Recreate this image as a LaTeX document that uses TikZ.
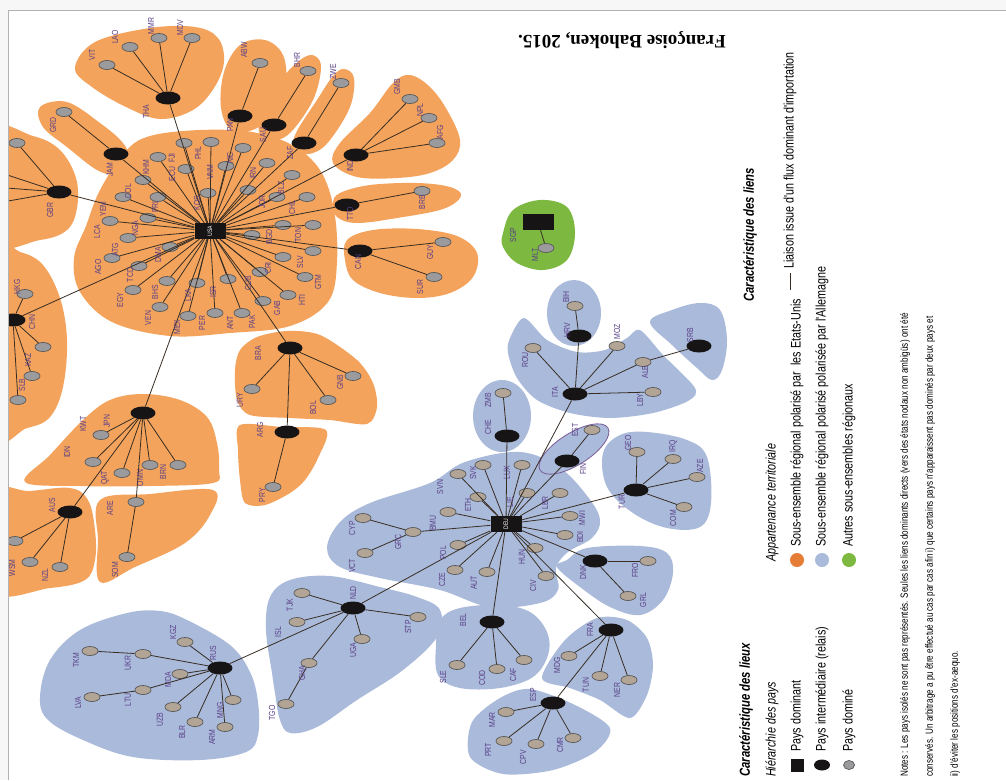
\documentclass[tikz,border=0pt]{standalone}
\usepackage{fontspec}
\setmainfont{Liberation Serif}
\newfontfamily\narrowfont[FakeStretch=0.78]{Liberation Sans}
\usetikzlibrary{shapes.geometric}
\definecolor{usorange}{RGB}{243,163,92}
\definecolor{deblue}{RGB}{170,186,218}
\definecolor{othgreen}{RGB}{125,185,65}
\definecolor{legorange}{RGB}{230,125,55}
\definecolor{relaycol}{RGB}{22,20,20}
\definecolor{usgray}{RGB}{155,155,158}
\definecolor{degray}{RGB}{178,165,150}
\definecolor{linkcol}{RGB}{55,45,35}
\definecolor{lblcol}{RGB}{88,62,135}
\definecolor{finpurple}{RGB}{120,90,150}

\begin{document}
\begin{tikzpicture}[x=1pt,y=-1pt]
  \tikzstyle{dominant}=[rectangle,fill=relaycol,minimum width=31pt,minimum height=16pt,inner sep=0pt]
  \tikzstyle{relay}=[ellipse,fill=relaycol,minimum width=25pt,minimum height=13pt,inner sep=0pt]
  \tikzstyle{dominated}=[ellipse,fill=usgray,draw=black!65,line width=0.7pt,minimum width=16pt,minimum height=9pt,inner sep=0pt]
  \tikzstyle{dominated de}=[dominated,fill=degray]
  \tikzstyle{lbl}=[rotate=90,text=lblcol,inner sep=0pt,font=\narrowfont\fontsize{8.8}{8.8}\selectfont]
  \tikzstyle{link}=[draw=linkcol,line width=0.8pt]
  \tikzstyle{usblob}=[fill=usorange]
  \tikzstyle{deblob}=[fill=deblue]
  \tikzstyle{legtext}=[rotate=90,anchor=west,inner sep=0pt,font=\narrowfont\fontsize{13.8}{14}\selectfont]
  \tikzstyle{leghead}=[legtext,font=\narrowfont\bfseries\itshape\fontsize{14.5}{15}\selectfont]
  \tikzstyle{legsub}=[legtext,font=\narrowfont\itshape\fontsize{13.8}{14}\selectfont]
  \tikzstyle{legnote}=[legtext,font=\narrowfont\fontsize{10.4}{10.4}\selectfont]

  \useasboundingbox (0,0) rectangle (1006,780);
  \fill[white] (0,0) rectangle (1006,780);
  \fill[gray!6] (0,0) rectangle (1006,10);
  \fill[gray!6] (0,0) rectangle (8,780);
  \draw[gray!60,line width=1pt] (8,780) -- (8,10) -- (1006,10);

  \begin{scope}
  \clip (9,11) rectangle (1006,780);

  % Draw the regional sub-sets (Etats-Unis)
  \fill[usblob] plot[smooth cycle,tension=0.6] coordinates {(100,190) (125,152) (150,136) (200,130) (252,132) (292,145) (320,170) (334,210) (337,262) (328,302) (290,326) (230,333) (170,336) (112,322) (80,292) (74,258) (86,226)};
  \fill[usblob] plot[smooth cycle,tension=0.6] coordinates {(75,68) (95,42) (150,28) (195,27) (218,38) (224,62) (214,88) (193,110) (160,119) (126,107) (92,87)};
  \fill[usblob] plot[smooth cycle,tension=0.6] coordinates {(40,107) (67,102) (100,123) (123,143) (129,160) (117,174) (97,170) (67,147) (43,127)};
  \fill[usblob] plot[smooth cycle,tension=0.6] coordinates {(-10,132) (33,136) (60,150) (76,178) (77,208) (67,230) (40,240) (-10,241)};
  \fill[usblob] plot[smooth cycle,tension=0.6] coordinates {(-10,250) (20,252) (43,265) (60,298) (67,340) (63,387) (50,417) (27,428) (-10,432)};
  \fill[usblob] plot[smooth cycle,tension=0.6] coordinates {(224,72) (240,45) (265,40) (283,55) (286,85) (276,112) (255,129) (232,131) (221,108)};
  \fill[usblob] plot[smooth cycle,tension=0.6] coordinates {(303,58) (315,56) (321,68) (313,100) (290,133) (270,141) (259,132) (263,107) (283,77)};
  \fill[usblob] plot[smooth cycle,tension=0.6] coordinates {(333,76) (344,69) (354,78) (350,107) (330,140) (313,153) (293,152) (296,133) (317,100)};
  \fill[usblob] plot[smooth cycle,tension=0.6] coordinates {(393,83) (410,75) (430,87) (447,110) (460,140) (453,160) (430,173) (397,178) (357,177) (333,163) (340,143) (370,113)};
  \fill[usblob] plot[smooth cycle,tension=0.6] coordinates {(340,193) (370,185) (417,183) (450,187) (461,196) (443,209) (397,218) (357,223) (337,217) (333,203)};
  \fill[usblob] plot[smooth cycle,tension=0.6] coordinates {(347,240) (373,230) (417,229) (457,236) (477,253) (473,277) (450,293) (417,298) (380,293) (353,280) (345,260)};
  \fill[usblob] plot[smooth cycle,tension=0.5] coordinates {(240,350) (257,337) (287,331) (320,335) (357,360) (373,383) (377,407) (367,424) (330,420) (290,418) (250,415) (237,400) (235,370)};
  \fill[usblob] plot[smooth cycle,tension=0.5] coordinates {(240,425) (282,427) (326,430) (318,458) (305,480) (290,493) (265,505) (245,503) (240,480) (238,450)};
  \fill[usblob] plot[smooth cycle,tension=0.6] coordinates {(25,482) (50,455) (83,420) (110,400) (143,394) (180,400) (207,417) (217,443) (219,470) (213,483) (150,486) (80,486)};
  \fill[usblob] plot[smooth cycle,tension=0.6] coordinates {(-10,494) (30,491) (70,488) (88,500) (95,530) (95,560) (85,580) (50,588) (-10,590)};
  \fill[usblob] plot[smooth cycle,tension=0.6] coordinates {(100,500) (150,494) (213,490) (210,515) (185,543) (135,567) (100,582) (98,540)};

  % Draw the regional sub-sets (Allemagne)
  \fill[deblob] plot[smooth cycle,tension=0.6] coordinates {(327,548) (340,522) (370,503) (430,483) (465,462) (520,452) (560,468) (588,497) (600,520) (592,538) (568,552) (556,568) (558,590) (540,603) (490,607) (440,590) (380,578) (340,567)};
  \fill[deblob] (502,416) ellipse [x radius=29pt,y radius=36pt];
  \filldraw[deblob,draw=finpurple,line width=0.8pt,rotate around={32:(574,449)}] (574,449) ellipse [x radius=40pt,y radius=16pt];
  \fill[deblob] plot[smooth cycle,tension=0.6] coordinates {(603,453) (620,435) (647,432) (687,440) (707,457) (711,503) (700,527) (667,528) (633,513) (607,487)};
  \fill[deblob] plot[smooth cycle,tension=0.6] coordinates {(567,560) (587,548) (640,546) (667,553) (673,573) (663,600) (640,615) (610,607) (580,587) (557,567)};
  \fill[deblob] plot[smooth cycle,tension=0.6] coordinates {(440,620) (460,608) (500,605) (530,612) (547,632) (548,655) (533,677) (500,688) (460,688) (438,675) (436,645)};
  \fill[deblob] plot[smooth cycle,tension=0.5] coordinates {(542,678) (565,640) (597,618) (627,620) (647,638) (653,665) (647,695) (630,718) (600,700) (570,688)};
  \fill[deblob] plot[smooth cycle,tension=0.5] coordinates {(530,689) (575,705) (610,728) (595,752) (553,770) (503,774) (470,757) (472,722) (500,698)};
  \fill[deblob] plot[smooth cycle,tension=0.6] coordinates {(266,630) (270,597) (290,580) (330,576) (380,587) (417,597) (440,610) (437,637) (403,670) (357,700) (317,727) (290,733) (280,720) (275,693) (272,673)};
  \fill[deblob] plot[smooth cycle,tension=0.6] coordinates {(40,697) (50,660) (80,630) (127,613) (160,611) (187,620) (230,645) (250,672) (258,702) (258,735) (246,752) (200,760) (133,757) (83,740) (48,720)};
  \fill[deblob] plot[smooth cycle,tension=0.5] coordinates {(508,353) (510,338) (524,318) (547,340) (577,352) (605,350) (627,338) (640,330) (663,355) (695,388) (688,401) (653,413) (610,418) (570,413) (537,400) (517,378)};
  \fill[deblob] (574,313) ellipse [x radius=27pt,y radius=33pt];
  \fill[deblob] plot[smooth cycle,tension=0.6] coordinates {(650,322) (672,310) (700,303) (720,310) (727,340) (722,370) (712,380) (697,368) (672,345)};

  % Draw the other sub-set
  \fill[othgreen] plot[smooth cycle,tension=0.6] coordinates {(503,233) (513,210) (540,200) (567,207) (575,233) (567,260) (543,270) (517,263) (503,247)};

  % Draw the dominant and intermediate countries
  \node[dominant] (USA) at (210,231) {};
  \node[dominant] (DEU) at (506,524) {};
  \node[dominant] (SGP) at (538,222) {};
  \foreach \name/\x/\y in {THA/168/98,PAN/240/116,SAU/274/125,ZAF/304/143,IND/356/155,TTO/347/205,
      CAN/360/251,BRA/290/348,ARG/287/432,JPN/143/413,AUS/70/512,GBR/59/192,JAM/116/154,CHN/13/320,
      RUS/220/668,NLD/353/608,ITA/575/394,HRV/579/336,SRB/699/346,CHE/507/436,FIN/567/461,
      TUR/636/490,DNK/595/561,BEL/492/622,FRA/611/630,ESP/553/703}
    \node[relay] (\name) at (\x,\y) {};

  % Draw the dominated countries around USA
  \foreach \x/\y [count=\i] in {184/143,211/142,158/157,186/169,243/148,226/166,143/180,208/193,248/190,
      123/197,158/197,110/221,148/218,128/238,170/247,112/258,139/266,133/290,167/281,197/283,160/307,
      188/316,215/313,242/313,228/279,263/301,288/295,260/272,305/277,283/257,313/251,252/235,283/225,
      313/225,267/163,292/175,277/197,307/197}
    \node[dominated] (USA-\i) at (\x,\y) {};

  % Draw the other dominated countries
  \foreach \name/\x/\y in {VIT/107/65,LAO/130/47,MMR/159/38,MDV/192/38,ABW/260/63,BHR/308/71,ZWE/341/83,
      GMB/410/99,NPL/429/118,AFG/437/143,BRB/422/191,GUY/443/242,SUR/434/277,GRD/64/112,GBR-1/17/143,
      HKG/25/294,KAZ/43/347,SLB/32/376,CHN-1/18/400,KWT/101/435,IDN/93/462,QAT/122/473,OMN/150/465,
      BRN/178/465,ARE/136/502,AUS-1/15/541,WSM/30/562,NZL/60/567,SOM/127/557,URY/252/389,BOL/328/400,
      GNB/353/376,PRY/273/487,MLT/546/248}
    \node[dominated] (\name) at (\x,\y) {};
  \foreach \name/\x/\y in {KGZ/185/642,UKR/143/654,MDA/180/674,LTU/143/690,UZB/173/707,BLR/195/722,
      ARM/225/727,MNG/233/700,TKM/90/651,LVA/92/697,TJK/302/593,ISL/297/622,STP/418/617,UGA/362/639,
      GHA/309/663,TGO/286/704,SVN/458/474,SVK/483/465,LUX/522/465,ETH/478/497,LIE/527/493,LBR/560/493,
      MWI/570/516,BDI/565/535,HUN/535/548,CIV/546/576,AUT/487/572,CZE/455/570,POL/458/545,BMU/448/512,
      GRC/413/532,CYP/363/518,VCT/365/553,ZMB/503/393,EST/592/430,GEO/637/452,IRQ/673/459,AZE/697/477,
      COM/684/507,FRO/648/561,GRL/628/596,SLE/457/665,COD/497/669,CAF/524/660,MDG/569/656,TUN/600/676,
      NER/629/680,MAR/506/712,PRT/504/741,CPV/536/744,CMR/573/738,ROU/533/348,MOZ/617/346,ALB/643/362,
      LBY/653/392,BIH/575/306}
    \node[dominated de] (\name) at (\x,\y) {};
  \coordinate (GBR-a) at (-20,166);
  \coordinate (GBR-b) at (-20,186);
  \coordinate (GBR-c) at (-20,206);

  % Connect USA with its dominated and intermediate countries
  \foreach \i in {1,...,38}
    \path[link] (USA) edge (USA-\i);
  \foreach \dest in {THA,PAN,SAU,ZAF,IND,TTO,CAN,BRA,JPN,GBR,JAM,CHN}
    \path[link] (USA) edge (\dest);

  % Connect DEU with its dominated and intermediate countries
  \foreach \dest in {SVN,SVK,LUX,ETH,LIE,LBR,MWI,BDI,HUN,CIV,AUT,CZE,POL,BMU,GRC,
      NLD,CHE,FIN,ITA,TUR,DNK,BEL,FRA}
    \path[link] (DEU) edge (\dest);

  % Connect the intermediate countries with the dominated ones
  \foreach \source/\dest in {THA/VIT,THA/LAO,THA/MMR,THA/MDV,PAN/ABW,SAU/BHR,ZAF/ZWE,IND/GMB,IND/NPL,
      IND/AFG,TTO/BRB,CAN/GUY,CAN/SUR,JAM/GRD,GBR/GBR-1,GBR/GBR-a,GBR/GBR-b,GBR/GBR-c,CHN/HKG,CHN/KAZ,
      CHN/SLB,CHN/CHN-1,JPN/KWT,JPN/IDN,JPN/QAT,JPN/OMN,JPN/BRN,JPN/ARE,JPN/AUS,AUS/AUS-1,AUS/WSM,
      AUS/NZL,ARE/SOM,BRA/URY,BRA/BOL,BRA/GNB,BRA/ARG,ARG/PRY,SGP/MLT,
      RUS/KGZ,RUS/UKR,RUS/MDA,RUS/LTU,RUS/UZB,RUS/BLR,RUS/ARM,RUS/MNG,UKR/TKM,LTU/LVA,NLD/RUS,
      NLD/TJK,NLD/ISL,NLD/STP,NLD/UGA,NLD/GHA,GHA/TGO,GRC/CYP,GRC/VCT,CHE/ZMB,FIN/EST,TUR/GEO,
      TUR/IRQ,TUR/AZE,TUR/COM,DNK/FRO,DNK/GRL,BEL/SLE,BEL/COD,BEL/CAF,FRA/MDG,FRA/TUN,FRA/NER,
      FRA/ESP,ESP/MAR,ESP/PRT,ESP/CPV,ESP/CMR,ITA/ROU,ITA/HRV,ITA/MOZ,ITA/ALB,ITA/LBY,HRV/BIH,ALB/SRB}
    \path[link] (\source) edge (\dest);

  % Annotate the countries
  \node[lbl,text=white,font=\narrowfont\fontsize{6.5}{6.5}\selectfont] (l-USA) at (USA) {USA};
  \node[lbl,text=white,font=\narrowfont\fontsize{6.5}{6.5}\selectfont] (l-DEU) at (DEU) {DEU};
  \foreach \t/\x/\y in {FJI/172/158,PHL/198/153,KHM/146/167,ECU/172/174,NIC/230/158,VNM/210/172,
      COL/128/191,KOS/197/203,YEM/103/209,PRI/155/207,LCA/97/232,NGA/135/228,ATG/115/250,DMA/158/255,
      AGO/98/267,TCD/130/275,EGY/120/300,BHS/155/292,LKA/188/295,VEN/148/318,MEX/177/327,PER/202/323,
      ANT/230/323,PAK/252/322,ISR/213/292,GAB/277/308,HTI/302/300,GTM/318/282,CUB/248/283,CRI/268/268,
      SLV/300/262,BGD/269/237,TON/298/235,IRN/253/173,BLZ/281/188,JOR/262/202,CHL/292/208,
      VIT/92/55,LAO/115/37,MMR/151/26,MDV/180/28,THA/146/112,ABW/244/50,PAN/230/125,BHR/297/60,
      SAU/263/135,ZWE/333/72,ZAF/290/153,GMB/397/87,NPL/420/110,AFG/440/132,IND/350/166,BRB/422/202,
      TTO/350/214,GUY/430/252,SUR/420/287,CAN/358/262,GRD/53/125,JAM/110/170,GBR/50/210,HKG/17/287,
      CHN/32/322,KAZ/28/360,SLB/22/385,JPN/107/421,KWT/83/424,IDN/67/452,QAT/105/478,OMN/140/478,
      BRN/163/472,AUS/52/505,WSM/12/568,NZL/45/575,ARE/110/508,SOM/115/570,BRA/258/353,URY/240/400,
      BOL/313/408,GNB/340/382,ARG/260/430,PRY/262/495,
      RUS/213/653,KGZ/173/632,UKR/128/663,TKM/76/660,MDA/168/680,LTU/128/700,LVA/78/703,UZB/160/720,
      BLR/182/732,ARM/212/737,MNG/220/710,NLD/353/593,TJK/290/605,ISL/278/632,STP/408/627,UGA/353/650,
      GHA/302/673,TGO/272/713,SVN/440/487,SVK/473/473,LUX/507/473,ETH/468/505,LIE/510/502,LBR/545/503,
      MWI/582/518,BDI/580/537,HUN/522/557,CIV/533/586,AUT/474/583,CZE/442/580,POL/443/553,BMU/433/523,
      GRC/398/542,CYP/352/528,VCT/352/566,CHE/488/427,ZMB/488/400,FIN/583/469,EST/575/430,TUR/622/502,
      GEO/628/443,IRQ/673/446,AZE/700/466,COM/673/518,DNK/583/572,FRO/635/570,GRL/643/600,BEL/463/620,
      SLE/443/677,COD/482/678,CAF/513/675,FRA/590/630,MDG/557/665,TUN/586/685,NER/617/690,ESP/533/695,
      MAR/492/720,PRT/488/750,CPV/523/757,CMR/560/745,ITA/555/392,ROU/525/360,HRV/567/330,BIH/566/297,
      MOZ/617/332,ALB/645/372,SRB/690/335,LBY/640/400,SGP/513/235,MLT/535/255}
    \node[lbl] (l-\t) at (\x,\y) {\t};
  \end{scope}

  % Draw the legend
  \node[leghead] (leg-lieux) at (746,777) {Caractéristique des lieux};
  \node[legsub] (leg-hier) at (772,777) {Hiérarchie des pays};
  \node[dominant,minimum width=13pt,minimum height=13pt] (leg-dom) at (797,765) {};
  \node[legtext] (leg-tdom) at (797,752) {Pays dominant};
  \node[relay,minimum width=16pt,minimum height=11pt] (leg-rel) at (822,765) {};
  \node[legtext] (leg-trel) at (822,752) {Pays intermédiaire (relais)};
  \node[dominated,minimum width=11pt,minimum height=9pt] (leg-dd) at (849,765) {};
  \node[legtext] (leg-tdd) at (849,752) {Pays dominé};
  \node[legsub] (leg-app) at (772,562) {Appartenance territoriale};
  \node[circle,fill=legorange,minimum size=14pt,inner sep=0pt] (leg-us) at (797,560) {};
  \node[legtext] (leg-tus) at (797,547) {Sous-ensemble régional polarisé par\ \ les Etats-Unis};
  \node[circle,fill=deblue,minimum size=14pt,inner sep=0pt] (leg-de) at (822,560) {};
  \node[legtext] (leg-tde) at (822,547) {Sous-ensemble régional polarisé polarisée par l'Allemagne};
  \node[circle,fill=othgreen,minimum size=14pt,inner sep=0pt] (leg-oth) at (849,560) {};
  \node[legtext] (leg-toth) at (849,547) {Autres sous-ensembles régionaux};
  \node[legnote] (note-1) at (905,777) {Notes : Les pays isolés ne sont pas représentés. Seules les liens dominants directs (vers des états nodaux non ambigüs) ont été};
  \node[legnote] (note-2) at (930,777) {conservés. Un arbitrage a pu être effectué au cas par cas afin i) que certains pays n'apparaissent pas dominés par deux pays et};
  \node[legnote] (note-3) at (955,777) {ii) d'éviter les positions d'ex-aequo.};
  \node[leghead] (leg-liens) at (750,302) {Caractéristique des liens};
  \coordinate (leg-l1) at (790,290);
  \coordinate (leg-l2) at (790,273);
  \draw[link,line width=1pt] (leg-l1) -- (leg-l2);
  \node[legtext] (leg-tl) at (790,269) {Liaison issue d'un flux dominant d'importation};
  \node[rotate=180,inner sep=0pt,font=\bfseries\fontsize{19}{19}\selectfont] (author) at (622,40) {Françoise Bahoken, 2015.};
\end{tikzpicture}
\end{document}
